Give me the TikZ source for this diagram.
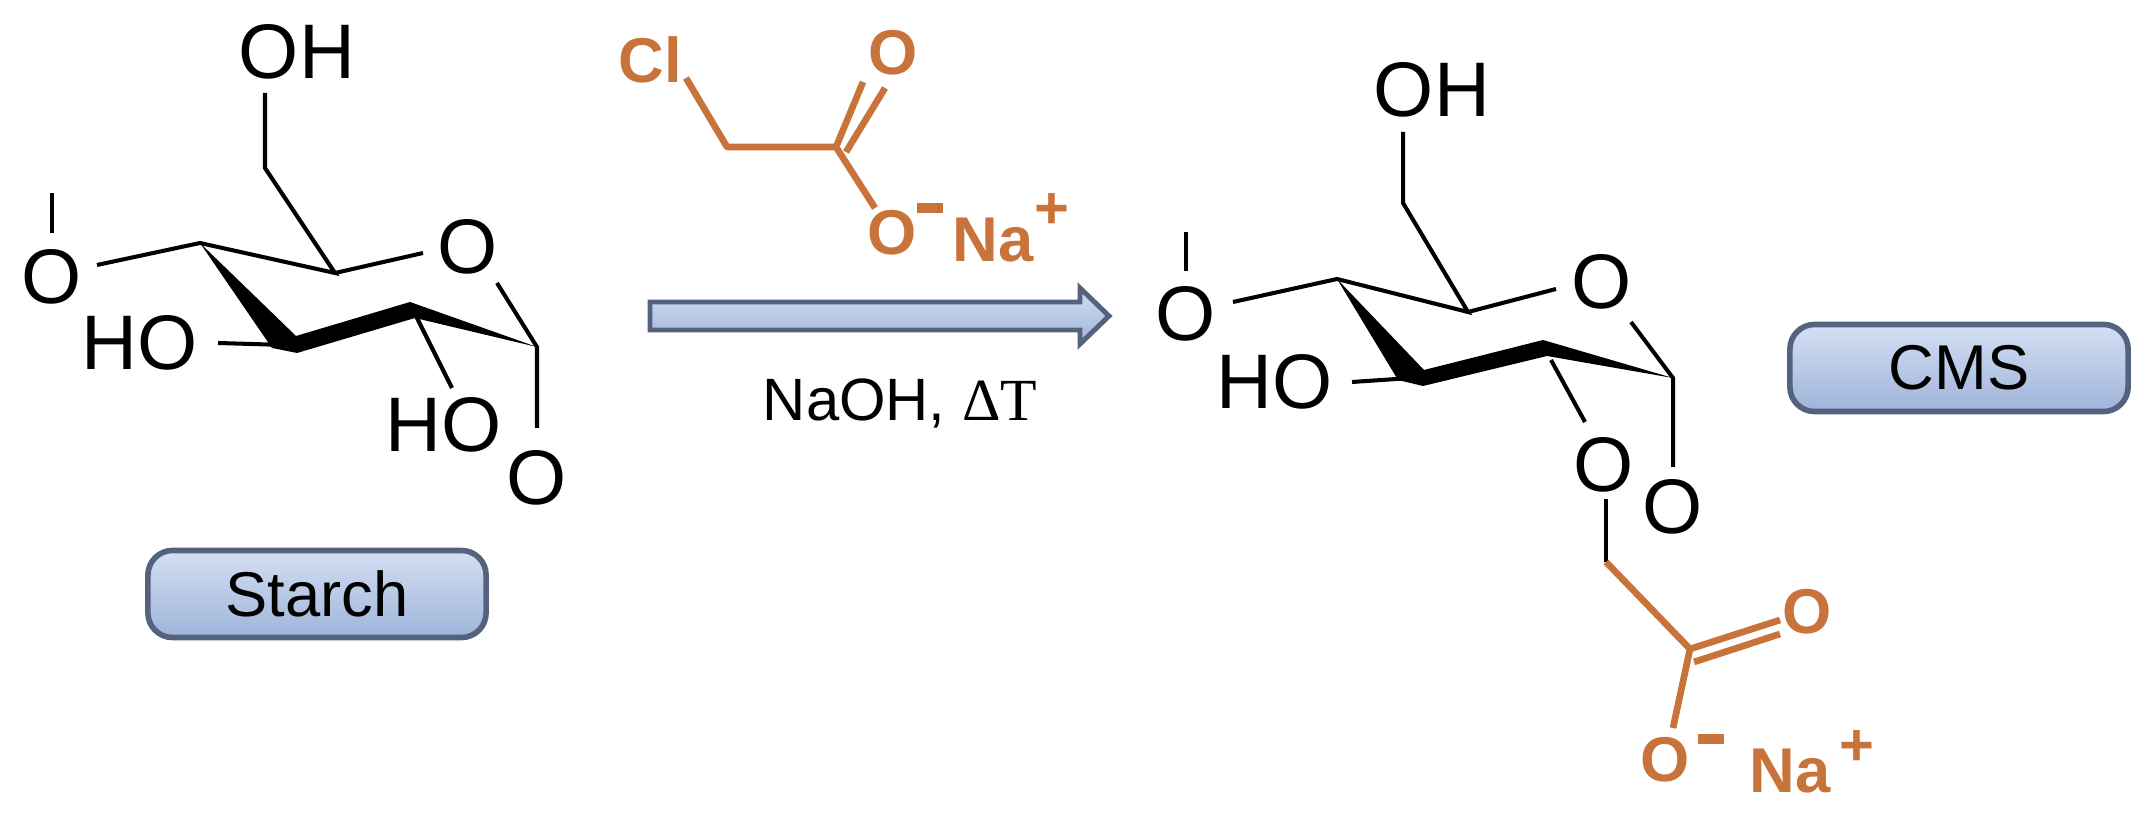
\documentclass[tikz,border=0pt]{standalone}
\usepackage{fontspec}
\setmainfont{Liberation Sans}
\newfontfamily\serifT{Liberation Serif}
\definecolor{org}{HTML}{C8733A}
\definecolor{boxtop}{HTML}{D3DFF3}
\definecolor{boxbot}{HTML}{9FB4DA}
\definecolor{boxline}{HTML}{55627E}
\begin{document}
\begin{tikzpicture}[x=0.01cm,y=-0.01cm,
  bond/.style={line width=1.15pt,line cap=butt},
  obond/.style={line width=1.9pt,org},
  atom/.style={inner sep=0pt,font=\fontsize{22}{24}\selectfont},
  oatom/.style={inner sep=0pt,text=org,font=\fontsize{18}{20}\selectfont\bfseries},
  osup/.style={inner sep=0pt,text=org,font=\fontsize{17}{18}\selectfont\bfseries},
  tagbox/.style={draw=boxline,line width=1.6pt,rounded corners=7pt,top color=boxtop,bottom color=boxbot,minimum width=3.38cm,minimum height=0.87cm,font=\fontsize{18}{20}\selectfont}]
\useasboundingbox (0,0) rectangle (2155,828);
% ---------- Starch ----------
\node[atom] (sO4) at (52,277) {O};
\coordinate (sT1) at (52,193); \coordinate (sT2) at (52,233);
\coordinate (sC4) at (200,243); \coordinate (sC5) at (335,273);
\coordinate (sC6) at (265,168); \coordinate (sC6t) at (265,93);
\coordinate (sC3) at (285,345); \coordinate (sC2) at (413,310);
\coordinate (sC1) at (537,347);
\node[atom] (sOH6) at (297,52) {OH};
\node[atom] (sOr) at (468,247) {O};
\node[atom] (sHO3) at (140,343) {HO};
\node[atom] (sHO2) at (444,425) {HO};
\node[atom] (sO1) at (537,478) {O};
\draw[bond] (sT1) -- (sT2);
\draw[bond] (97,265) -- (sC4) -- (sC5) -- (sC6) -- (sC6t);
\draw[bond] (sC5) -- (423,253);
\draw[bond] (497,283) -- (sC1) -- (537,428);
\draw[bond] (218,343) -- (sC3);
\draw[bond] (sC2) -- (452,388);
\fill (sC4) -- (272,348) -- (297,353) -- (415,318) -- (sC1) -- (410,302) -- (296,336) -- cycle;
\node[tagbox] (starch) at (317,594) {Starch};
% ---------- Reagent ----------
\node[oatom] (rCl) at (650,60) {Cl};
\coordinate (rC2) at (727,147); \coordinate (rC1) at (836,147);
\node[oatom] (rO) at (893,53) {O};
\node[oatom] (rOm) at (892,233) {O};
\node[osup] (rm) at (930,208) {\rule{0.26cm}{2.6pt}};
\node[oatom] (rNa) at (993,240) {Na};
\node[osup] (rp) at (1052,211) {+};
\draw[obond,line join=round] (686,78) -- (rC2) -- (rC1);
\draw[obond] (rC1) -- (863,82);
\draw[obond] (846,152) -- (885,88);
\draw[obond] (rC1) -- (875,208);
% ---------- Arrow ----------
\draw[boxline,line width=1.4pt,top color=boxtop,bottom color=boxbot,line join=miter]
  (650,302) -- (1080,302) -- (1080,288) -- (1109,316) -- (1080,344) -- (1080,330) -- (650,330) -- cycle;
\node[inner sep=0pt,font=\fontsize{17}{19}\selectfont] (cond) at (900,403) {NaOH, {\serifT ΔT}};
% ---------- CMS ----------
\node[atom] (cO4) at (1186,314) {O};
\coordinate (cT1) at (1186,232); \coordinate (cT2) at (1186,271);
\coordinate (cC4) at (1337,279); \coordinate (cC5) at (1468,312);
\coordinate (cC6) at (1403,203); \coordinate (cC6t) at (1403,132);
\coordinate (cC3) at (1411,378); \coordinate (cC2) at (1545,348);
\coordinate (cC1) at (1673,378);
\node[atom] (cOH6) at (1432,90) {OH};
\node[atom] (cOr) at (1602,282) {O};
\node[atom] (cHO3) at (1275,382) {HO};
\node[atom] (cO2) at (1604,465) {O};
\node[atom] (cO1) at (1673,507) {O};
\draw[bond] (cT1) -- (cT2);
\draw[bond] (1233,302) -- (cC4) -- (cC5) -- (cC6) -- (cC6t);
\draw[bond] (cC5) -- (1556,289);
\draw[bond] (1631,322) -- (cC1) -- (1673,467);
\draw[bond] (1352,382) -- (cC3);
\draw[bond] (1551,360) -- (1585,422);
\fill (cC4) -- (1398,380) -- (1423,386) -- (1547,356) -- (cC1) -- (1543,340) -- (1424,370) -- cycle;
\coordinate (cCH2) at (1606,562); \coordinate (cCc) at (1690,649);
\draw[bond] (1606,499) -- (cCH2);
\draw[obond] (cCH2) -- (cCc);
\draw[obond] (cCc) -- (1780,620);
\draw[obond] (1694,662) -- (1780,634);
\draw[obond] (cCc) -- (1673,728);
\node[oatom] (cOm) at (1665,760) {O};
\node[osup] (cm) at (1711,739) {\rule{0.26cm}{2.6pt}};
\node[oatom] (cNa) at (1790,771) {Na};
\node[osup] (cp) at (1857,748) {+};
\node[oatom] (cOd) at (1807,612) {O};
\node[tagbox] (cms) at (1959,368) {CMS};
\end{tikzpicture}
\end{document}
